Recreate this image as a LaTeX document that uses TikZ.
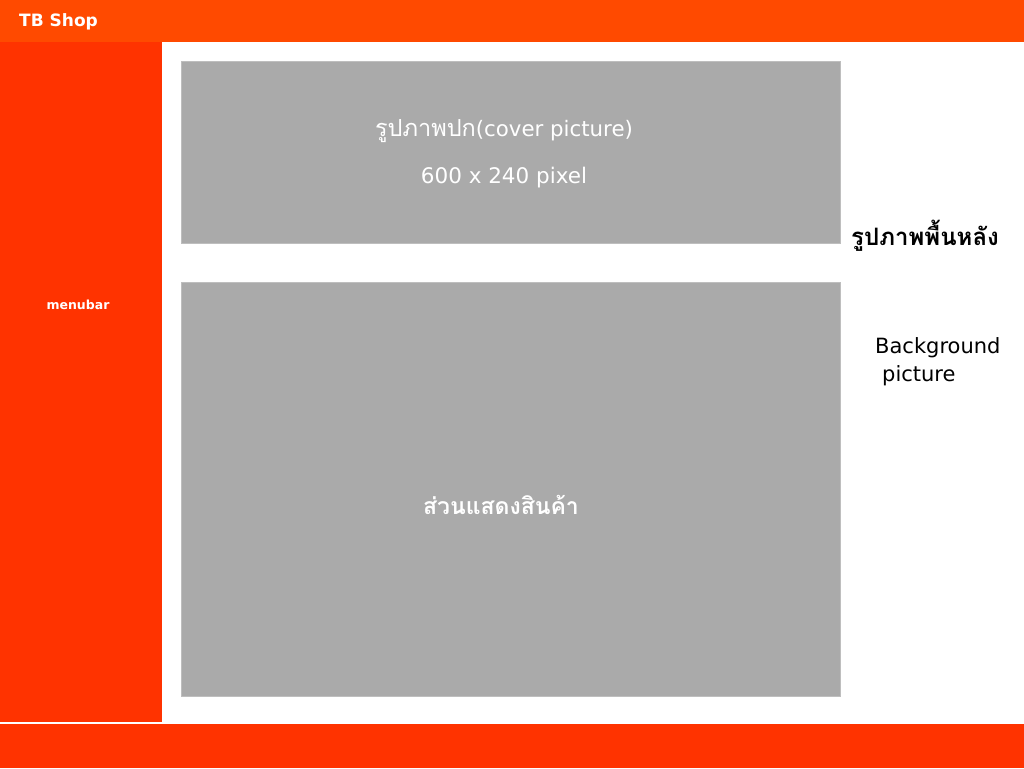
\documentclass[tikz,border=0pt]{standalone}
\usepackage{fontspec}
\setmainfont{DejaVu Sans}
\newfontfamily\thaifont[Script=Thai]{Loma}
\definecolor{headorange}{RGB}{255,74,0}
\definecolor{barred}{RGB}{255,51,0}
\definecolor{boxgray}{RGB}{170,170,170}
\definecolor{edgegray}{RGB}{190,190,190}
\usetikzlibrary{positioning}

\begin{document}
\begin{tikzpicture}[x=1pt,y=-1pt,
    panel/.style={fill=boxgray, draw=edgegray, line width=1pt},
    whitetxt/.style={text=white, inner sep=0pt},
    blacktxt/.style={text=black, inner sep=0pt}]
    \useasboundingbox (0,0) rectangle (1024,768);

    % Bars
    \fill[headorange] (0,0) rectangle (1024,42);
    \fill[barred] (0,42) rectangle (162,722);
    \fill[barred] (0,724) rectangle (1024,768);

    % Panels
    \draw[panel] (181,61) rectangle (840,243);
    \draw[panel] (181,282) rectangle (840,696);

    % Labels
    \node[whitetxt, anchor=west, font=\bfseries\fontsize{17}{20}\selectfont] (shop) at (19,22) {TB Shop};
    \node[whitetxt, font=\bfseries\fontsize{12.5}{14}\selectfont] (menu) at (78,305) {menubar};
    \node[whitetxt, anchor=base, font=\fontsize{21.3}{24}\selectfont] (cover) at (504,136) {{\thaifont\fontsize{23.5}{26}\selectfont รูปภาพปก}(cover picture)};
    \node[whitetxt, anchor=base, font=\fontsize{21.5}{24}\selectfont] (size) at (504,183) {600 x 240 pixel};
    \node[whitetxt, anchor=base, font=\thaifont\bfseries\fontsize{23}{26}\selectfont] (goods) at (501,514) {ส่วนแสดงสินค้า};
    \node[blacktxt, anchor=base west, font=\thaifont\bfseries\fontsize{24}{26}\selectfont] (bgthai) at (851,245) {รูปภาพพื้นหลัง};
    \node[blacktxt, anchor=base west, font=\fontsize{21}{24}\selectfont] (bgeng) at (875,353) {Background};
    \node[blacktxt, anchor=base west, font=\fontsize{21}{24}\selectfont] (bgpic) at (882,381) {picture};
\end{tikzpicture}
\end{document}
